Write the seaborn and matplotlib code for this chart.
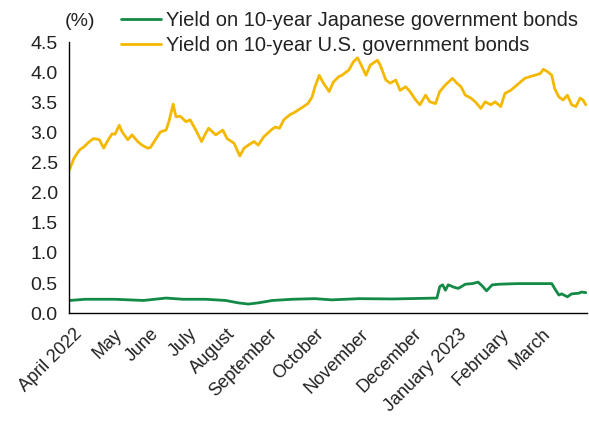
import matplotlib
matplotlib.use("Agg")
import matplotlib.pyplot as plt
import pandas as pd
import seaborn as sb

# values (%)
us_dates = ['2022-04-01', '2022-04-04', '2022-04-08', '2022-04-11', '2022-04-15', '2022-04-18',
            '2022-04-22', '2022-04-25', '2022-04-28',
            '2022-05-01', '2022-05-03', '2022-05-06', '2022-05-08', '2022-05-12', '2022-05-15',
            '2022-05-19', '2022-05-22', '2022-05-26', '2022-05-28',
            '2022-06-01', '2022-06-04', '2022-06-08', '2022-06-10', '2022-06-13', '2022-06-15',
            '2022-06-18', '2022-06-22', '2022-06-25', '2022-06-29',
            '2022-07-03', '2022-07-06', '2022-07-08', '2022-07-13', '2022-07-18', '2022-07-21',
            '2022-07-26', '2022-07-30',
            '2022-08-02', '2022-08-05', '2022-08-09', '2022-08-12', '2022-08-16', '2022-08-21',
            '2022-08-24', '2022-08-27', '2022-08-30',
            '2022-09-03', '2022-09-07', '2022-09-11', '2022-09-16', '2022-09-19', '2022-09-21',
            '2022-09-24', '2022-09-27',
            '2022-10-01', '2022-10-04', '2022-10-08', '2022-10-10', '2022-10-15', '2022-10-18',
            '2022-10-21', '2022-10-23', '2022-10-27', '2022-10-30',
            '2022-11-04', '2022-11-06', '2022-11-10', '2022-11-13', '2022-11-17', '2022-11-20',
            '2022-11-24', '2022-11-27',
            '2022-12-01', '2022-12-04', '2022-12-08', '2022-12-11', '2022-12-15', '2022-12-18',
            '2022-12-22', '2022-12-27', '2022-12-30',
            '2023-01-02', '2023-01-05', '2023-01-09', '2023-01-12', '2023-01-16', '2023-01-19',
            '2023-01-23', '2023-01-26', '2023-01-30',
            '2023-02-02', '2023-02-06', '2023-02-09', '2023-02-13', '2023-02-16', '2023-02-20',
            '2023-02-23', '2023-02-27',
            '2023-03-01', '2023-03-04', '2023-03-07', '2023-03-09', '2023-03-12', '2023-03-15',
            '2023-03-18', '2023-03-21', '2023-03-24', '2023-03-27', '2023-03-29', '2023-03-31']
us_yield = [2.39, 2.57, 2.71, 2.76, 2.85, 2.90, 2.88, 2.74, 2.87,
            2.98, 2.97, 3.12, 3.01, 2.88, 2.96, 2.85, 2.79, 2.74, 2.75,
            2.90, 3.01, 3.04, 3.18, 3.47, 3.26, 3.27, 3.18, 3.21, 3.04,
            2.85, 2.99, 3.07, 2.96, 3.04, 2.90, 2.82, 2.61,
            2.74, 2.79, 2.85, 2.79, 2.93, 3.04, 3.09, 3.07, 3.21,
            3.29, 3.34, 3.40, 3.48, 3.59, 3.76, 3.95, 3.82,
            3.68, 3.84, 3.93, 3.95, 4.04, 4.17, 4.24, 4.15, 3.95, 4.12,
            4.20, 4.12, 3.87, 3.82, 3.87, 3.70, 3.76, 3.68,
            3.54, 3.46, 3.62, 3.51, 3.48, 3.68, 3.79, 3.90, 3.82,
            3.76, 3.62, 3.57, 3.51, 3.40, 3.51, 3.46, 3.51, 3.43,
            3.65, 3.70, 3.76, 3.84, 3.90, 3.93, 3.95, 3.98,
            4.05, 4.01, 3.95, 3.73, 3.59, 3.54, 3.62, 3.46, 3.43, 3.57, 3.54, 3.46]

jp_dates = ['2022-04-01', '2022-04-12', '2022-05-03', '2022-05-23', '2022-06-08', '2022-06-20',
            '2022-07-06', '2022-07-20', '2022-07-29', '2022-08-05', '2022-08-12', '2022-08-22',
            '2022-09-05', '2022-09-21', '2022-10-03', '2022-10-22', '2022-11-15', '2022-12-16',
            '2022-12-18', '2022-12-20', '2022-12-22', '2022-12-24', '2022-12-28', '2022-12-31',
            '2023-01-03', '2023-01-05', '2023-01-10', '2023-01-14', '2023-01-17', '2023-01-20',
            '2023-01-24', '2023-01-29', '2023-02-11', '2023-02-25', '2023-03-07', '2023-03-09',
            '2023-03-12', '2023-03-14', '2023-03-18', '2023-03-21', '2023-03-26', '2023-03-28',
            '2023-03-31']
jp_yield = [0.21, 0.23, 0.23, 0.21, 0.25, 0.23, 0.23, 0.21, 0.17, 0.15,
            0.17, 0.21, 0.23, 0.24, 0.22, 0.24, 0.235, 0.25, 0.44, 0.47,
            0.38, 0.47, 0.43, 0.41, 0.45, 0.48, 0.49, 0.515, 0.45, 0.37,
            0.47, 0.48, 0.49, 0.49, 0.49, 0.41, 0.30, 0.32, 0.27, 0.32,
            0.33, 0.35, 0.34]

month_labels = ['April 2022', 'May', 'June', 'July', 'August', 'September', 'October',
                'November', 'December', 'January 2023', 'February', 'March']
# where the original chart puts each month label along the axis
month_ticks = ['2022-04-04', '2022-05-02', '2022-05-28', '2022-06-24', '2022-07-21', '2022-08-19',
               '2022-09-21', '2022-10-23', '2022-11-29', '2022-12-31', '2023-01-30', '2023-02-28']
yticks = [0.0, 0.5, 1.0, 1.5, 2.0, 2.5, 3.0, 3.5, 4.0, 4.5]

jp_label = "Yield on 10-year Japanese government bonds"
us_label = "Yield on 10-year U.S. government bonds"
green = "#138a45"
yellow = "#f5b800"
text_col = "#222222"

sb.set_theme(style="white")
plt.rcParams['font.family'] = ['Liberation Sans', 'DejaVu Sans']

dfJp = pd.DataFrame({"date": pd.to_datetime(jp_dates), "yield": jp_yield})
dfUs = pd.DataFrame({"date": pd.to_datetime(us_dates), "yield": us_yield})

fig = plt.figure(figsize=(5.89, 4.26), dpi=100)
ax = fig.add_axes([0.117, 0.265, 0.880, 0.636])

sb.lineplot(data=dfJp, x="date", y="yield", color=green, linewidth=2.0, label=jp_label, ax=ax)
sb.lineplot(data=dfUs, x="date", y="yield", color=yellow, linewidth=2.0, label=us_label, ax=ax)

ax.set_ylim(0, 4.5)
ax.set_xlim(pd.Timestamp('2022-03-31 12:00'), pd.Timestamp('2023-04-01'))
ax.set_yticks(yticks)
ax.set_yticklabels([f"{t:.1f}" for t in yticks], fontsize=14, color=text_col)
ax.set_xticks(pd.to_datetime(month_ticks))
ax.set_xticklabels(month_labels, rotation=45, ha='right', va='top', rotation_mode='anchor',
                   fontsize=13, color=text_col)
ax.tick_params(axis='both', length=0)
ax.tick_params(axis='y', pad=8)
ax.tick_params(axis='x', pad=9)
ax.set_xlabel("")
ax.set_ylabel("")

for side in ['top', 'right']:
    ax.spines[side].set_visible(False)
for side in ['left', 'bottom']:
    ax.spines[side].set_color('black')
    ax.spines[side].set_linewidth(1.0)

handles, labels = ax.get_legend_handles_labels()
ax.get_legend().remove()
fig.legend(handles, labels, loc='upper left', bbox_to_anchor=(0.205, 0.974), frameon=False,
           fontsize=14.5, handlelength=2.0, handletextpad=0.25, labelspacing=0.28,
           borderpad=0, borderaxespad=0, labelcolor=text_col)

fig.text(0.110, 1 - 22 / 426, "(%)", ha='left', va='center', fontsize=14, color=text_col)

fig.savefig("out.png", dpi=100)
